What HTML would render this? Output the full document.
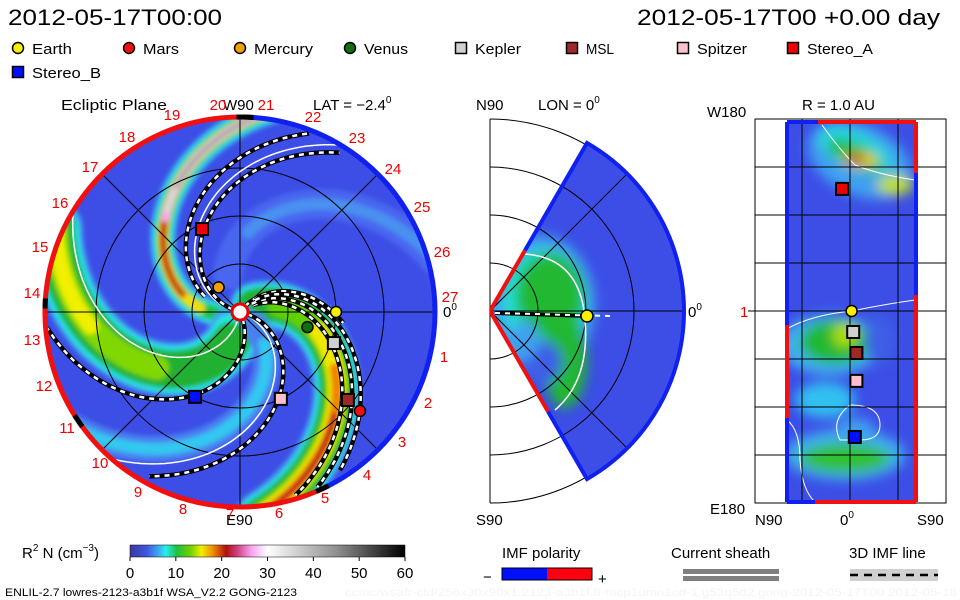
<!DOCTYPE html>
<html><head><meta charset="utf-8"><style>
html,body{margin:0;padding:0;background:#fff;}
svg{display:block;font-family:"Liberation Sans","DejaVu Sans",sans-serif;}
</style></head><body>
<svg id="chart" width="960" height="600" viewBox="0 0 960 600">
<defs>
  <filter id="blur" x="-20%" y="-20%" width="140%" height="140%"><feGaussianBlur stdDeviation="2.5"/></filter>
  <filter id="blur2" x="-50%" y="-50%" width="200%" height="200%"><feGaussianBlur stdDeviation="6"/></filter>
  <clipPath id="discClip"><circle cx="240" cy="312" r="194"/></clipPath>
  <clipPath id="wedgeClip"><path id="wedgeShape" d=""/></clipPath>
  <clipPath id="rectClip"><rect x="786" y="122" width="131" height="380"/></clipPath>
  <linearGradient id="cbar" x1="0" x2="1" y1="0" y2="0">
    <stop offset="0" stop-color="#3a3a9a"/><stop offset="0.06" stop-color="#3d55e0"/>
    <stop offset="0.1" stop-color="#40a0f0"/><stop offset="0.13" stop-color="#20f0f0"/>
    <stop offset="0.17" stop-color="#20c040"/><stop offset="0.22" stop-color="#70d000"/>
    <stop offset="0.26" stop-color="#f0f000"/><stop offset="0.3" stop-color="#f09000"/>
    <stop offset="0.35" stop-color="#b01010"/><stop offset="0.39" stop-color="#d04080"/>
    <stop offset="0.44" stop-color="#f8a0f0"/><stop offset="0.5" stop-color="#ffffff"/>
    <stop offset="0.75" stop-color="#909090"/><stop offset="1" stop-color="#000000"/>
  </linearGradient>
</defs>

<!-- header -->
<text x="8" y="25" font-size="22" textLength="214" lengthAdjust="spacingAndGlyphs">2012-05-17T00:00</text>
<text x="637" y="25" font-size="22" textLength="303" lengthAdjust="spacingAndGlyphs">2012-05-17T00 +0.00 day</text>

<g id="legend"></g>

<!-- panel titles -->
<text x="61" y="110" font-size="15" textLength="106" lengthAdjust="spacingAndGlyphs">Ecliptic Plane</text>
<text x="223" y="110" font-size="15">W90</text>
<text x="313" y="110" font-size="15">LAT = −2.4<tspan font-size="10" dy="-7">0</tspan></text>
<text x="226" y="525" font-size="15">E90</text>
<text x="443" y="317" font-size="15">0<tspan font-size="10" dy="-7">0</tspan></text>

<text x="476" y="110" font-size="15">N90</text>
<text x="538" y="110" font-size="15">LON = 0<tspan font-size="10" dy="-7">0</tspan></text>
<text x="476" y="525" font-size="15">S90</text>
<text x="688" y="317" font-size="15">0<tspan font-size="10" dy="-7">0</tspan></text>

<text x="802" y="110" font-size="15">R = 1.0 AU</text>
<text x="707" y="117" font-size="15">W180</text>
<text x="710" y="514" font-size="15">E180</text>
<text x="740" y="317" font-size="15" fill="#e00">1</text>
<text x="755" y="525" font-size="15">N90</text>
<text x="840" y="525" font-size="15">0<tspan font-size="10" dy="-7">0</tspan></text>
<text x="917" y="525" font-size="15">S90</text>

<!-- ecliptic disc -->
<g id="disc">
  <g clip-path="url(#discClip)">
    <circle cx="240" cy="312" r="194" fill="#3c4ee6"/>
    <g id="bands" filter="url(#blur)"></g>
    <g id="grid" stroke="#000" stroke-width="1" fill="none"></g>
    <g id="spirals"></g>
  </g>
  <g id="rim"></g>
  <g id="dayLabels" fill="#e00" font-size="15"></g>
  <circle cx="240" cy="312" r="8" fill="#fff" stroke="#e00" stroke-width="3"/>
  <g id="planets"></g>
</g>

<!-- meridional wedge -->
<g id="mid">
  <g id="midGrid" stroke="#000" fill="none" stroke-width="1"></g>
  <g clip-path="url(#wedgeClip)">
    <rect x="480" y="100" width="220" height="420" fill="#3c4ee6"/>
    <g filter="url(#blur2)">
      <ellipse cx="540" cy="305" rx="55" ry="70" fill="#40a0f0"/>
      <ellipse cx="545" cy="300" rx="42" ry="52" fill="#20e0d0"/>
      <ellipse cx="550" cy="295" rx="34" ry="42" fill="#20b830"/>
      <ellipse cx="565" cy="360" rx="22" ry="48" fill="#20b830"/>
      <ellipse cx="540" cy="362" rx="22" ry="22" fill="#3c5ee6"/>
      <ellipse cx="525" cy="340" rx="14" ry="20" fill="#40a0f0"/>
    </g>
    <g id="midGridIn" stroke="#000" fill="none" stroke-width="1"></g>
    <path d="M510,254 Q580,250 585,320 Q590,380 555,410" stroke="#fff" stroke-width="1.5" fill="none"/>
    <line x1="495" y1="313" x2="590" y2="316" stroke="#000" stroke-width="4"/>
    <line x1="495" y1="313" x2="610" y2="316" stroke="#fff" stroke-width="2" stroke-dasharray="5 5"/>
  </g>
  <path id="wedgeBorderBlue" d="" stroke="#1020f0" stroke-width="4" fill="none"/>
  <path id="wedgeBorderRed" d="" stroke="#f01010" stroke-width="4" fill="none"/>
  <circle cx="587" cy="316" r="6" fill="#f8f000" stroke="#000" stroke-width="1.5"/>
</g>

<!-- right panel -->
<g id="right">
  <rect x="755" y="119" width="191" height="384" fill="#fff" stroke="#000"/>
  <g clip-path="url(#rectClip)">
    <rect x="786" y="122" width="131" height="380" fill="#3c4ee6"/>
    <g filter="url(#blur2)">
      <ellipse cx="860" cy="160" rx="55" ry="35" fill="#40a0f0" transform="rotate(25 860 160)"/>
      <ellipse cx="855" cy="150" rx="40" ry="18" fill="#20d8e0" transform="rotate(25 855 150)"/>
      <ellipse cx="855" cy="155" rx="30" ry="12" fill="#20c040" transform="rotate(25 855 155)"/>
      <ellipse cx="860" cy="160" rx="18" ry="7" fill="#f0d000"/>
      <ellipse cx="855" cy="159" rx="10" ry="5" fill="#c02010"/>
      <ellipse cx="895" cy="185" rx="18" ry="10" fill="#c0e000"/>
      <ellipse cx="830" cy="345" rx="50" ry="30" fill="#40b0f0"/>
      <ellipse cx="835" cy="342" rx="35" ry="22" fill="#20b830"/>
      <ellipse cx="845" cy="335" rx="12" ry="12" fill="#b0e000"/>
      <ellipse cx="845" cy="455" rx="60" ry="25" fill="#40b0f0"/>
      <ellipse cx="845" cy="458" rx="45" ry="15" fill="#30c030"/>
      <ellipse cx="880" cy="340" rx="15" ry="25" fill="#3c5ee6"/>
      <ellipse cx="825" cy="400" rx="30" ry="18" fill="#30c0f0"/>
      <ellipse cx="855" cy="430" rx="20" ry="12" fill="#40a0f0"/>
    </g>
    <path d="M822,125 Q840,150 855,165 Q880,175 915,180" stroke="#fff" stroke-width="1" fill="none"/>
    <path d="M785,330 Q810,315 852,311 Q880,305 915,300" stroke="#fff" stroke-width="1" fill="none"/>
    <path d="M840,440 Q830,420 850,405 Q880,405 880,425 Q880,440 860,440 Z" stroke="#fff" stroke-width="1" fill="none"/>
    <path d="M787,420 Q800,430 800,460 Q802,490 815,502" stroke="#fff" stroke-width="1" fill="none"/>
  </g>
  <g id="rightGrid" stroke="#000" stroke-width="1"></g>
  <g id="rightBorders"></g>
  <g id="rightPlanets"></g>
</g>

<!-- colorbar -->
<text x="22" y="558" font-size="15">R<tspan font-size="10" dy="-7">2</tspan><tspan dy="7"> N (cm</tspan><tspan font-size="10" dy="-7">−3</tspan><tspan dy="7">)</tspan></text>
<rect x="130" y="545" width="275" height="12" fill="url(#cbar)" stroke="#000" stroke-width="0.5"/>
<g id="cbarTicks" font-size="15"></g>

<text x="502" y="558" font-size="15">IMF polarity</text>
<text x="483" y="582" font-size="15">−</text>
<rect x="502" y="568" width="45" height="12" fill="#0010ff"/>
<rect x="547" y="568" width="45" height="12" fill="#ff0010"/>
<rect x="502" y="568" width="90" height="12" fill="none" stroke="#000"/>
<text x="598" y="584" font-size="15">+</text>

<text x="671" y="558" font-size="15">Current sheath</text>
<rect x="683" y="569" width="96" height="5" fill="#808080"/>
<rect x="683" y="576" width="96" height="5" fill="#808080"/>

<text x="849" y="558" font-size="15">3D IMF line</text>
<rect x="850" y="569" width="88" height="12" fill="#d0d0d0"/>
<line x1="850" y1="575" x2="938" y2="575" stroke="#000" stroke-width="2.5" stroke-dasharray="8 6"/>

<text x="5" y="596" font-size="11" textLength="292" lengthAdjust="spacingAndGlyphs">ENLIL-2.7 lowres-2123-a3b1f WSA_V2.2 GONG-2123</text>
<text x="345" y="596" font-size="11" fill="#f4f4f4" textLength="612" lengthAdjust="spacingAndGlyphs">ccmc/wsafr-cld/256x30x90x1.2123-a3b1f.8-mcp1umn1cd-1.g53q5d2.gong-2012-05-17T00   2012-05-18</text>
</svg>
<script>
// ---- data ----
const planetNames = ["Earth","Mars","Mercury","Venus","Kepler","MSL","Spitzer","Stereo_A","Stereo_B"];
const planetColors = ["#f8f000","#f01010","#f0a000","#107010","#d0d0d0","#a02828","#ffc0cb","#f00000","#0010ff"];
const planetShapes = ["circle","circle","circle","circle","square","square","square","square","square"];
const planetRadiusAU = [1.0, 1.62, 0.34, 0.72, 1.03, 1.45, 1.0, 0.95, 1.0];
const planetLonDeg = [0, -39.5, 131, -12.6, -18.3, -39.2, -64.8, 114.6, -117.9];
const planetLatDeg = [0, null, null, null, 8.2, 16.4, 27.3, -47.7, 49.2];
const planetLatX = [1, null, null, null, 2, 4, 4, -5, 3];
const bandPhi0 = [197, 32, -89, -30, 130];
const spiralPhi0 = [165, 178, -65, -12, 53, 36, 43, 49];
const spiralR0 = [0.08, 0.4, 0.08, 0.08, 0.08, 0.15, 0.15, 0.2];
const spiralR1 = [1.98, 2.02, 2.02, 1.98, 1.1, 2.02, 2.02, 1.98];
const contourPhi0 = [-100, 170, -20];
const cbarTicks = [0,10,20,30,40,50,60];
const dayLabels = ["20","21","22","23","24","25","26","27","1","2","3","4","5","6","7","8","9","10","11","12","13","14","15","16","17","18","19"];

const NS="http://www.w3.org/2000/svg";
const CX=240, CY=312, AU=96, RMAX=194, K=0.57;
function el(tag, attrs, parent){const e=document.createElementNS(NS,tag);for(const k in attrs)e.setAttribute(k,attrs[k]);parent.appendChild(e);return e;}
function xr(r,deg){return CX + r*Math.cos(deg*Math.PI/180);}
function yr(r,deg){return CY - r*Math.sin(deg*Math.PI/180);}
function spiralPath(phi0,r0,r1){let d="";for(let r=r0;r<=r1+0.01;r+=3){const a=phi0-K*r;d+=(d?"L":"M")+xr(r,a).toFixed(1)+","+yr(r,a).toFixed(1);}return d;}

// legend
const legend=document.getElementById("legend");
const legX=[18,129,240,350,461,572,683,793,18], legY=[48,48,48,48,48,48,48,48,72];
const legW=[40,36,59,44,46,28,50,66,69];
planetNames.forEach((n,i)=>{
  const g=el("g",{},legend);
  
  
  if(planetShapes[i]==="circle") el("circle",{cx:legX[i],cy:legY[i],r:5.5,fill:planetColors[i],stroke:"#000","stroke-width":1.5},g);
  else el("rect",{x:legX[i]-5.5,y:legY[i]-5.5,width:11,height:11,fill:planetColors[i],stroke:"#000","stroke-width":1.5},g);
  const t=el("text",{x:legX[i]+14,y:legY[i]+6,"font-size":15,textLength:legW[i],lengthAdjust:"spacingAndGlyphs"},g);t.textContent=n;
});

// bands
const bands=document.getElementById("bands");
const bandLayers=[
  [["#40a0f0",26,20,194],["#20e8e0",20,20,194],["#20c040",14,20,194],["#f0e000",10,40,194],["#f08000",7,60,194],["#c01818",5,60,150],["#f8a0f0",8,120,194],["#d8d8d8",6,125,194],["#909090",3,140,194]],
  [["#40a0f0",48,15,194],["#20e8e0",40,15,194],["#20b030",34,15,194],["#60d000",24,40,194],["#f0e800",18,80,194],["#f08000",10,110,194],["#c01818",6,140,194]],
  [["#40a0f0",54,20,194],["#20e8e0",46,25,194],["#20b030",38,30,194],["#80d800",24,100,194],["#f0f000",16,150,194]],
  [["#4a80f0",26,20,194],["#30c8f0",12,40,194]],
  [["#4a66f0",30,40,194],["#4a90f0",12,80,194]]
];
bandPhi0.forEach((p,i)=>{
  bandLayers[i].forEach(L=>{
    const pth=el("path",{d:spiralPath(p,L[2],L[3]+10),stroke:L[0],"stroke-width":L[1],fill:"none","stroke-linecap":"round"},bands);
    
    
  });
});

// grid
const grid=document.getElementById("grid");
[0.5,1,1.5].forEach(a=>el("circle",{cx:CX,cy:CY,r:a*AU},grid));
[0,45,90,135].forEach(a=>el("line",{x1:xr(RMAX,a),y1:yr(RMAX,a),x2:xr(RMAX,a+180),y2:yr(RMAX,a+180)},grid));

// contours & spirals
const sp=document.getElementById("spirals");
contourPhi0.forEach(p=>{
  const c=el("path",{d:spiralPath(p,10,194),stroke:"#fff","stroke-width":1.5,fill:"none"},sp);
  
  
});
spiralPhi0.forEach((p,i)=>{
  const d=spiralPath(p,spiralR0[i]*AU,spiralR1[i]*AU);
  el("path",{d:d,stroke:"#000","stroke-width":4.5,fill:"none"},sp);
  const w=el("path",{d:d,stroke:"#fff","stroke-width":2.5,fill:"none","stroke-dasharray":"5 5"},sp);
  
  
});

// rim: polarity arcs
const rim=document.getElementById("rim");
function arc(r,a0,a1){const x0=xr(r,a0),y0=yr(r,a0),x1=xr(r,a1),y1=yr(r,a1);const large=Math.abs(a1-a0)>180?1:0;return `M${x0},${y0}A${r},${r} 0 ${large} 0 ${x1},${y1}`;}
const rimRed=el("path",{d:arc(195,89,295),stroke:"#f01010","stroke-width":5,fill:"none"},rim);


const rimBlue=el("path",{d:arc(195,-65,89),stroke:"#1020f0","stroke-width":5,fill:"none"},rim);


[[86,91],[176,179],[212,216],[293,297]].forEach(s=>el("path",{d:arc(195,s[0],s[1]),stroke:"#000","stroke-width":5,fill:"none"},rim));

// day labels
const dl=document.getElementById("dayLabels");
const dayPos=[[218,105],[266,105],[313,117],[357,138],[393,169],[422,207],[442,252],[450,297],[444,357],[428,403],[402,442],[367,475],[325,498],[279,513],[230,514],[183,509],[138,492],[100,463],[67,428],[44,386],[32,340],[32,293],[40,247],[60,203],[90,167],[127,137],[172,115]];
dayLabels.forEach((t,i)=>{
  const e=el("text",{x:dayPos[i][0],y:dayPos[i][1]+5,"text-anchor":"middle"},dl);
  
  
  e.textContent=t;
});

// planets (ecliptic)
const pl=document.getElementById("planets");
planetNames.forEach((n,i)=>{
  const x=xr(planetRadiusAU[i]*AU,planetLonDeg[i]), y=yr(planetRadiusAU[i]*AU,planetLonDeg[i]);
  let m;
  if(planetShapes[i]==="circle") m=el("circle",{cx:x,cy:y,r:5.5,fill:planetColors[i],stroke:"#000","stroke-width":1.5},pl);
  else m=el("rect",{x:x-6,y:y-6,width:12,height:12,fill:planetColors[i],stroke:"#000","stroke-width":2},pl);
  
  
});

// meridional panel
const MX=490, MY=311, MR=194, WA=60;
function mx(r,a){return MX+r*Math.cos(a*Math.PI/180);} function my(r,a){return MY-r*Math.sin(a*Math.PI/180);}
const wedge=`M${mx(4,WA)},${my(4,WA)}L${mx(MR,WA)},${my(MR,WA)}A${MR},${MR} 0 0 1 ${mx(MR,-WA)},${my(MR,-WA)}L${mx(4,-WA)},${my(4,-WA)}Z`;
document.getElementById("wedgeShape").setAttribute("d",wedge);
const mg=document.getElementById("midGrid");
[48,96,144,192].forEach(r=>el("path",{d:`M${MX},${MY-r}A${r},${r} 0 0 1 ${MX},${MY+r}`},mg));
el("line",{x1:MX,y1:MY-192,x2:MX,y2:MY+192},mg);
const mgi=document.getElementById("midGridIn");
[48,96,144].forEach(r=>el("path",{d:`M${MX},${MY-r}A${r},${r} 0 0 1 ${MX},${MY+r}`},mgi));
el("line",{x1:MX,y1:MY,x2:MX+192,y2:MY},mgi);
el("line",{x1:MX,y1:MY,x2:mx(194,45),y2:my(194,45)},mgi);
el("line",{x1:MX,y1:MY,x2:mx(194,-45),y2:my(194,-45)},mgi);
document.getElementById("wedgeBorderBlue").setAttribute("d",`M${mx(70,WA)},${my(70,WA)}L${mx(MR,WA)},${my(MR,WA)}A${MR},${MR} 0 0 1 ${mx(MR,-WA)},${my(MR,-WA)}L${mx(116,-WA)},${my(116,-WA)}`);
document.getElementById("wedgeBorderRed").setAttribute("d",`M${mx(70,WA)},${my(70,WA)}L${mx(4,WA)},${my(4,WA)}L${mx(4,-WA)},${my(4,-WA)}L${mx(116,-WA)},${my(116,-WA)}`);

// right panel grid
const rg=document.getElementById("rightGrid");
[167,215,263,311,359,407,455].forEach(y=>el("line",{x1:755,y1:y,x2:946,y2:y},rg));
[802,850,898].forEach(x=>el("line",{x1:x,y1:119,x2:x,y2:503},rg));
el("line",{x1:748,y1:311,x2:755,y2:311},rg);
const rb=document.getElementById("rightBorders");
[["#1020f0",787,122,787,325],["#f01010",787,325,787,418],["#1020f0",787,418,787,502],
 ["#f01010",916,122,916,173],["#1020f0",916,173,916,295],["#f01010",916,295,916,502],
 ["#1020f0",787,122,818,122],["#f01010",818,122,916,122],["#1020f0",787,502,815,502],["#f01010",815,502,916,502]].forEach(s=>
  el("line",{x1:s[1],y1:s[2],x2:s[3],y2:s[4],stroke:s[0],"stroke-width":4},rb));
// right panel planets
const rp=document.getElementById("rightPlanets");
const RPX=850, RPY=311, DEGPX=48/30, VPX=2.56;
planetNames.forEach((n,i)=>{
  if(planetLatDeg[i]===null) return;
  const x=RPX+planetLatX[i]*DEGPX, y=RPY+planetLatDeg[i]*VPX;
  let m;
  if(planetShapes[i]==="circle") m=el("circle",{cx:x,cy:y,r:5.5,fill:planetColors[i],stroke:"#000","stroke-width":1.5},rp);
  else m=el("rect",{x:x-6,y:y-6,width:12,height:12,fill:planetColors[i],stroke:"#000","stroke-width":2},rp);
  
  
});

// colorbar ticks
const ct=document.getElementById("cbarTicks");
cbarTicks.forEach(v=>{
  const x=130+v/60*275;
  el("line",{x1:x,y1:557,x2:x,y2:561,stroke:"#000"},ct);
  const t=el("text",{x:x,y:578,"text-anchor":"middle"},ct);
  
  
  t.textContent=v;
});
</script>
</body></html>
